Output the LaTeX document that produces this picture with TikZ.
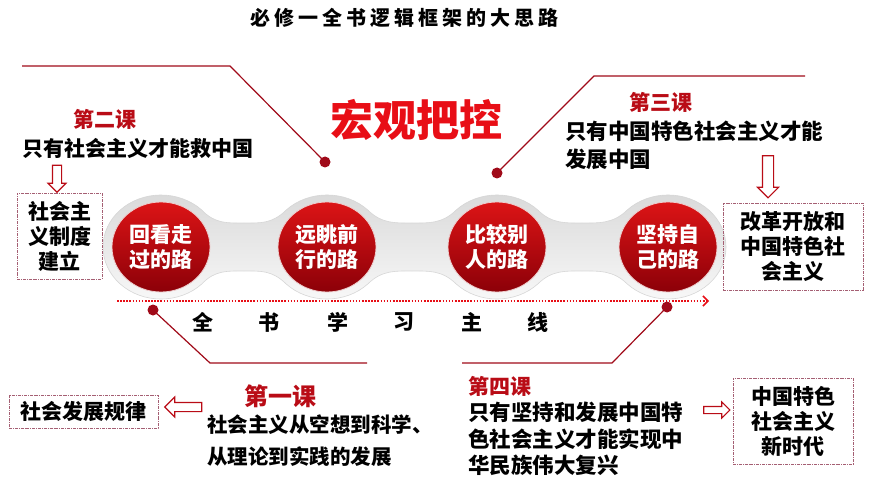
\documentclass[tikz,border=0pt]{standalone}
\usepackage{fontspec}
\setmainfont{Noto Sans CJK SC}
\usetikzlibrary{arrows.meta,shapes.arrows,shapes.geometric}
\definecolor{dred}{RGB}{185,12,22}
\definecolor{bred}{RGB}{232,14,22}
\definecolor{linered}{RGB}{160,10,25}
\definecolor{boxline}{RGB}{165,95,115}
\definecolor{ballhi}{RGB}{220,20,22}
\definecolor{balllo}{RGB}{140,0,8}
\begin{document}
\begin{tikzpicture}[x=1pt,y=-1pt,
  txt/.style={inner sep=0pt, font=\bfseries\fontsize{21}{26}\selectfont},
  lesson/.style={inner sep=0pt, text=dred, font=\bfseries\fontsize{21}{26}\selectfont},
  dbox/.style={draw=boxline, line width=0.8pt, densely dashdotted, inner sep=0pt, align=center, font=\bfseries\fontsize{21}{25}\selectfont},
  harrow/.style={single arrow, draw=dred, fill=white, line width=1.1pt, inner sep=0pt, minimum width=0pt},
  rball/.style={ellipse, minimum width=98, minimum height=90, inner sep=0pt, align=center, text=white,
     top color=ballhi, bottom color=balllo, draw={rgb,255:red,238;green,205;blue,205}, line width=0.8pt,
     font=\bfseries\fontsize{21}{25}\selectfont},
  rdot/.style={circle, fill=linered, inner sep=0pt, minimum size=11},
  conn/.style={draw=linered, line width=1.2pt},
  mainc/.style={inner sep=0pt, font=\bfseries\fontsize{21}{26}\selectfont}
]
\useasboundingbox (0,0) rectangle (870,489);

% title
\node[inner sep=0pt, font=\bfseries\fontsize{20}{24}\selectfont\addfontfeature{LetterSpace=20}] (title) at (404,18) {必修一全书逻辑框架的大思路};

% grey band
\path[draw=gray!32, line width=0.6pt, top color=gray!30, middle color=gray!12, bottom color=gray!5]
  (103,247) arc[start angle=180, end angle=315, x radius=58, y radius=52]
  .. controls (215,224) and (228,223) .. (244,223)
  .. controls (260,223) and (272,224) .. (286,210.2)
  arc[start angle=225, end angle=315, x radius=58, y radius=52]
  .. controls (382,224) and (396,223) .. (412,223)
  .. controls (428,223) and (442,224) .. (456,210.2)
  arc[start angle=225, end angle=315, x radius=58, y radius=52]
  .. controls (552,224) and (566,223) .. (582,223)
  .. controls (598,223) and (613,224) .. (627,210.2)
  arc[start angle=225, end angle=495, x radius=58, y radius=52]
  .. controls (613,270) and (598,271) .. (582,271)
  .. controls (566,271) and (552,270) .. (538,283.8)
  arc[start angle=45, end angle=135, x radius=58, y radius=52]
  .. controls (442,270) and (428,271) .. (412,271)
  .. controls (396,271) and (382,270) .. (368,283.8)
  arc[start angle=45, end angle=135, x radius=58, y radius=52]
  .. controls (272,270) and (260,271) .. (244,271)
  .. controls (228,271) and (215,270) .. (202,283.8)
  arc[start angle=45, end angle=180, x radius=58, y radius=52] -- cycle;

% red balls
\node[rball] (r1) at (161,247) {回看走\\过的路};
\node[rball] (r2) at (327,247) {远眺前\\行的路};
\node[rball] (r3) at (497,247) {比较别\\人的路};
\node[rball] (r4) at (668,247) {坚持自\\己的路};

% main dotted arrow
\coordinate (ms) at (117,301);
\coordinate (me) at (709,301);
\draw[bred, line width=1.8pt, dash pattern=on 1.6pt off 1.5pt, -{Straight Barb[length=5pt,width=10pt,line width=1.5pt]}] (ms) -- (me);

% main line characters
\node[mainc] (t1) at (203,322) {全};
\node[mainc] (t2) at (269,322) {书};
\node[mainc] (t3) at (338,322) {学};
\node[mainc] (t4) at (404,322) {习};
\node[mainc] (t5) at (472,322) {主};
\node[mainc] (t6) at (538,322) {线};

% big heading
\node[inner sep=0pt, text=bred, font=\bfseries\fontsize{43}{48}\selectfont] (hg) at (416,120) {宏观把控};

% connectors with dots
\coordinate (a1) at (22,66);
\coordinate (a2) at (230,66);
\node[rdot] (d2) at (325,162) {};
\draw[conn] (a1) -- (a2) -- (d2.center);

\coordinate (b1) at (805,76);
\coordinate (b2) at (594,76);
\node[rdot] (d3) at (497,173) {};
\draw[conn] (b1) -- (b2) -- (d3.center);

\coordinate (c1) at (367,363);
\coordinate (c2) at (210,363);
\node[rdot] (d1) at (153,310) {};
\draw[conn] (c1) -- (c2) -- (d1.center);

\coordinate (e1) at (462,363);
\coordinate (e2) at (612,363);
\node[rdot] (d4) at (667,307) {};
\draw[conn] (e1) -- (e2) -- (d4.center);

% lesson 2
\node[lesson] (l2t) at (105,119) {第二课};
\node[txt, anchor=west] (l2) at (22,148) {只有社会主义才能救中国};
\node[harrow, shape border rotate=270, minimum height=27, inner sep=4pt, single arrow head extend=4.5pt] (ar2) at (57,176.5) {};
\node[dbox, minimum width=85, minimum height=86] (bx2) at (59.5,236) {社会主\\义制度\\建立};

% lesson 3
\node[lesson] (l3t) at (661,102) {第三课};
\node[txt, anchor=north west, align=left, font=\bfseries\fontsize{21.5}{28}\selectfont] (l3) at (565,121) {只有中国特色社会主义才能\\发展中国};
\node[harrow, shape border rotate=270, minimum height=42, inner sep=5pt, single arrow head extend=5pt] (ar3) at (768,174) {};
\node[dbox, minimum width=140, minimum height=87] (bx3) at (793,247) {改革开放和\\中国特色社\\会主义};

% lesson 1
\node[lesson, font=\bfseries\fontsize{24}{28}\selectfont] (l1t) at (280,396) {第一课};
\node[txt, anchor=north west, align=left, font=\bfseries\fontsize{20.5}{31.5}\selectfont] (l1) at (207,415) {社会主义从空想到科学、\\从理论到实践的发展};
\node[harrow, shape border rotate=180, minimum height=37, inner sep=4pt, single arrow head extend=5.5pt] (ar1) at (185.5,407) {};
\node[dbox, minimum width=149, minimum height=33] (bx1) at (83.5,411.5) {社会发展规律};

% lesson 4
\node[lesson, anchor=west] (l4t) at (468,386) {第四课};
\node[txt, anchor=north west, align=left, font=\bfseries\fontsize{21.5}{26.5}\selectfont] (l4) at (468,402) {只有坚持和发展中国特\\色社会主义才能实现中\\华民族伟大复兴};
\node[harrow, shape border rotate=0, minimum height=26, inner sep=3pt, single arrow head extend=4.5pt] (ar4) at (715,410) {};
\node[dbox, minimum width=120, minimum height=86] (bx4) at (793,421) {中国特色\\社会主义\\新时代};

\end{tikzpicture}
\end{document}
